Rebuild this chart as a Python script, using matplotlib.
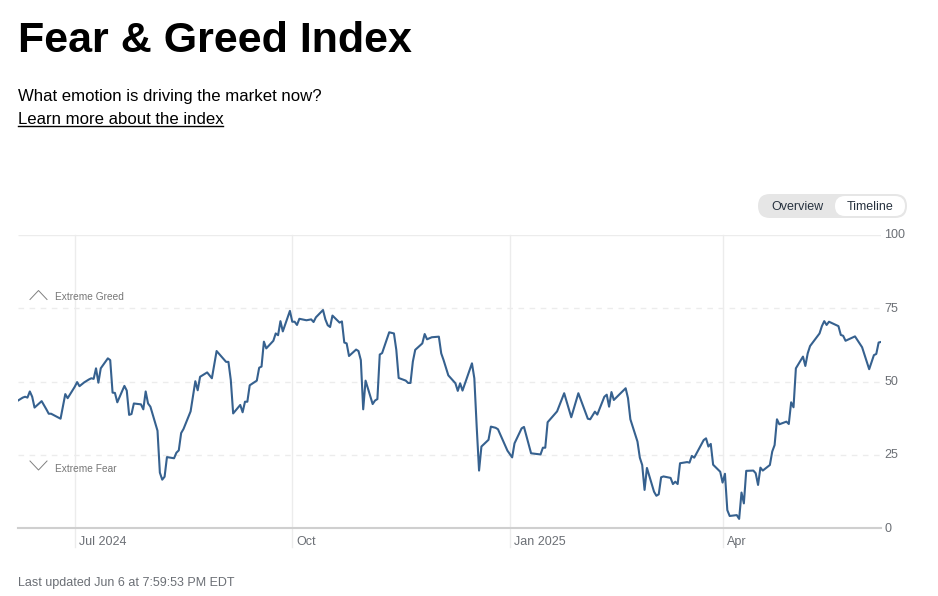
"""CNN Fear & Greed Index, one-year timeline view."""
import matplotlib
matplotlib.use("Agg")
import matplotlib.pyplot as plt
import numpy as np
from matplotlib.patches import FancyBboxPatch
from matplotlib.transforms import ScaledTranslation

plt.rcParams["font.family"] = ["Liberation Sans", "DejaVu Sans"]

START = np.datetime64("2024-06-07")

# days since START, and the index value on that day
days = [
    0, 2, 3, 4, 5, 6, 7, 10, 12, 13, 14, 18, 20, 21, 24, 25, 26, 28, 30, 31, 32, 33, 34, 35,
    38, 39, 40, 41, 42, 45, 46, 47, 48, 49, 52, 53, 54, 55, 56, 59, 60, 61, 62, 63, 66, 67,
    68, 69, 70, 73, 75, 76, 77, 80, 82, 84, 88, 89, 90, 91, 94, 95, 96, 97, 98, 101, 102,
    103, 104, 105, 108, 109, 110, 111, 112, 115, 116, 117, 118, 119, 122, 124, 125, 126,
    129, 130, 131, 132, 133, 136, 137, 138, 139, 140, 143, 144, 145, 146, 147, 150, 151,
    152, 153, 154, 157, 159, 160, 161, 164, 165, 166, 167, 168, 171, 172, 173, 175, 178,
    179, 180, 182, 185, 186, 187, 188, 192, 193, 194, 195, 196, 199, 200, 202, 203, 207,
    209, 210, 213, 214, 217, 221, 222, 223, 224, 228, 231, 234, 237, 241, 242, 244, 245,
    248, 249, 250, 251, 252, 257, 258, 259, 262, 263, 264, 265, 266, 269, 270, 271, 272,
    273, 276, 277, 278, 279, 280, 283, 284, 285, 286, 290, 291, 292, 293, 294, 297, 298,
    299, 300, 301, 304, 305, 306, 307, 308, 311, 312, 313, 314, 315, 318, 319, 320, 321,
    322, 325, 326, 327, 328, 329, 332, 333, 334, 335, 339, 340, 341, 342, 343, 347, 348,
    349, 350, 354, 357, 360, 362, 363, 364, 365,
]
index_values = [
    43.5, 44.5, 44.8, 44.5, 46.6, 44.8, 41.1, 43.3, 40.5, 39.0, 39.0, 37.3, 45.7, 44.3, 48.2,
    49.8, 48.4, 49.7, 50.7, 51.1, 50.9, 54.5, 49.6, 54.5, 57.9, 57.3, 46.2, 46.1, 42.9, 48.5,
    46.9, 38.6, 38.9, 42.5, 42.2, 40.5, 46.6, 42.5, 41.4, 33.2, 18.9, 16.5, 17.5, 24.2, 23.8,
    25.7, 26.5, 32.4, 33.8, 39.8, 50.1, 47.0, 51.6, 53.1, 51.1, 60.4, 56.7, 56.7, 50.5, 39.1,
    42.0, 39.5, 43.1, 43.1, 48.7, 50.3, 54.7, 55.1, 63.6, 61.3, 63.9, 66.4, 65.8, 70.6, 67.1,
    74.1, 70.4, 70.4, 69.3, 71.4, 70.9, 71.2, 70.3, 71.9, 74.4, 71.2, 69.2, 68.6, 72.5, 70.1,
    70.5, 63.3, 63.0, 58.7, 60.9, 60.4, 57.3, 40.5, 50.3, 42.3, 43.5, 44.0, 59.2, 59.7, 66.8,
    66.4, 60.8, 51.2, 50.3, 49.5, 49.5, 56.8, 60.8, 63.0, 66.2, 64.4, 65.1, 65.3, 59.6, 57.3,
    52.1, 49.4, 46.8, 49.4, 46.9, 56.2, 51.1, 34.6, 19.6, 27.8, 30.1, 34.6, 34.2, 33.7, 26.4,
    24.1, 28.9, 34.0, 34.5, 25.5, 25.1, 27.4, 27.4, 36.1, 39.8, 46.0, 37.8, 46.0, 37.3, 37.1,
    39.7, 38.7, 44.8, 45.5, 41.4, 46.4, 43.7, 47.7, 44.3, 37.1, 29.5, 24.0, 21.5, 13.0, 20.5,
    12.4, 11.0, 11.5, 17.3, 17.6, 17.1, 15.0, 15.8, 15.0, 22.1, 22.5, 22.3, 24.6, 24.0, 30.0,
    30.6, 27.8, 28.7, 21.6, 19.2, 15.5, 18.5, 6.1, 4.1, 4.4, 3.1, 12.1, 8.4, 19.5, 19.6, 18.7,
    14.7, 20.6, 19.6, 21.5, 26.1, 28.3, 37.1, 35.4, 36.3, 35.5, 42.9, 41.2, 54.5, 58.5, 55.3,
    59.6, 62.1, 66.4, 68.9, 70.6, 69.3, 70.4, 68.9, 65.9, 65.6, 63.9, 65.4, 61.7, 54.2, 59.0,
    59.4, 63.3, 63.5,
]
y_ticks = [0, 25, 50, 75, 100]
month_ticks = ["2024-07-01", "2024-10-01", "2025-01-01", "2025-04-01"]
month_labels = ["Jul 2024", "Oct", "Jan 2025", "Apr"]

W, H = 938, 596
LINE = "#36618f"
GRID = "#ececec"
MUTED = "#6b6f75"

dates = START + np.array(days).astype("timedelta64[D]")
ticks = np.array(month_ticks, dtype="datetime64[D]")

fig = plt.figure(figsize=(W / 100, H / 100), dpi=100, facecolor="white")
ax = fig.add_axes([18 / W, 1 - 528 / H, (881 - 18) / W, (528 - 235) / H])
ax.set_xlim(START, START + np.timedelta64(365, "D"))
ax.set_ylim(0, 100)

for s in ("top", "left", "right"):
    ax.spines[s].set_visible(False)
ax.spines["bottom"].set_color("#cfcfcf")
ax.spines["bottom"].set_linewidth(1.5)

for y in y_ticks[1:]:
    ax.axhline(y, color=GRID, lw=1, dashes=(4, 4) if y < 100 else (1, 0), zorder=1)
# month lines run on below the axis, down to the labels
for t in ticks:
    ax.plot([t, t], [-6.5, 100], color=GRID, lw=1, clip_on=False, zorder=1)

ax.plot(dates, index_values, color=LINE, lw=1.5, solid_joinstyle="round", zorder=3)

ax.yaxis.tick_right()
ax.set_yticks(y_ticks)
ax.set_xticks(ticks)
ax.set_xticklabels(month_labels)
ax.tick_params(axis="both", length=0, labelsize=9, labelcolor=MUTED)
ax.tick_params(axis="y", pad=2.5)
ax.tick_params(axis="x", pad=6)
for lab in ax.get_xticklabels():
    lab.set_ha("left")
    lab.set_transform(lab.get_transform() + ScaledTranslation(4 / 100, 0, fig.dpi_scale_trans))
for lab in ax.get_yticklabels():
    lab.set_transform(lab.get_transform() + ScaledTranslation(0, 1 / 100, fig.dpi_scale_trans))

# page furniture, placed in pixel coordinates
page = fig.add_axes([0, 0, 1, 1], facecolor="none")
page.set_xlim(0, W)
page.set_ylim(H, 0)
page.axis("off")

page.text(18, 41, "Fear & Greed Index", fontsize=31, fontweight="bold", color="black", va="center")
page.text(18, 97, "What emotion is driving the market now?", fontsize=12.05, color="black", va="center")
page.text(18, 120, "Learn more about the index", fontsize=12.05, color="black", va="center")
page.plot([18, 223], [125.5, 125.5], color="black", lw=1)

page.add_patch(FancyBboxPatch((758, 194), 149, 24, boxstyle="round,pad=0,rounding_size=12",
                              fc="#e6e6e6", ec="none"))
page.add_patch(FancyBboxPatch((835, 196), 70, 20, boxstyle="round,pad=0,rounding_size=10",
                              fc="white", ec="none"))
page.text(797, 207, "Overview", fontsize=9, color="#27323f", ha="center", va="center")
page.text(870, 207, "Timeline", fontsize=9, color="#27323f", ha="center", va="center")

page.plot([30, 38.5, 47], [299.5, 290.5, 299.5], color="#808080", lw=0.7)
page.plot([30, 38.5, 47], [461, 470, 461], color="#808080", lw=0.7)
page.text(55, 297.5, "Extreme Greed", fontsize=7.25, color="#777777", va="center")
page.text(55, 468.5, "Extreme Fear", fontsize=7.25, color="#777777", va="center")

page.text(18, 583, "Last updated Jun 6 at 7:59:53 PM EDT", fontsize=9, color=MUTED, va="center")

fig.savefig("out.png", dpi=100)
